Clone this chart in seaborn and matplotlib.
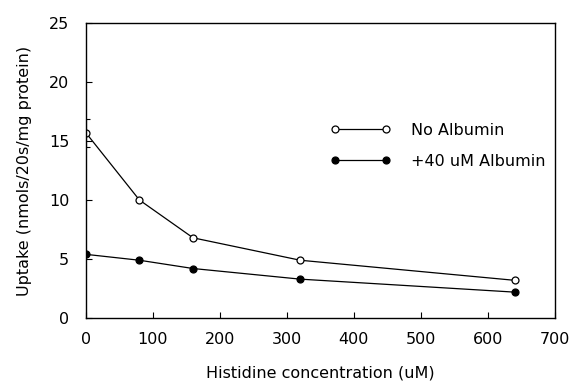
import matplotlib
matplotlib.use("Agg")
import matplotlib.pyplot as plt
import seaborn as sns
import pandas as pd

# data
conc = [0, 80, 160, 320, 640]
no_albumin = [15.7, 10.0, 6.8, 4.9, 3.2]
with_albumin = [5.4, 4.9, 4.2, 3.3, 2.2]
err_x = [0]
err_y = [15.7]
err_size = [1.2]

df = pd.DataFrame({
    "conc": conc * 2,
    "uptake": no_albumin + with_albumin,
    "group": ["No Albumin"] * len(conc) + ["+40 uM Albumin"] * len(conc),
})

sns.set_theme(style="ticks")
plt.rcParams["font.family"] = ["DejaVu Sans"]
plt.rcParams["text.color"] = "black"
plt.rcParams["axes.labelcolor"] = "black"

fig = plt.figure(figsize=(5.72, 3.87), dpi=100)
ax = fig.add_axes([0.150, 0.178, 0.820, 0.763])

for grp, face in [("No Albumin", "white"), ("+40 uM Albumin", "black")]:
    sub = df[df["group"] == grp]
    sns.lineplot(data=sub, x="conc", y="uptake", ax=ax, color="black", lw=0.9,
                 marker="o", markersize=5, markerfacecolor=face,
                 markeredgecolor="black", markeredgewidth=0.9, label=grp,
                 legend=False)

ax.errorbar(err_x, err_y, yerr=err_size, fmt="none", ecolor="black",
            elinewidth=0.8, capsize=3, capthick=0.8)

ax.set_xlim(0, 700)
ax.set_ylim(0, 25)
ax.set_xticks([0, 100, 200, 300, 400, 500, 600, 700])
ax.set_yticks([0, 5, 10, 15, 20, 25])
ax.tick_params(direction="in", length=4, width=0.8, labelsize=11.5, colors="black")
ax.tick_params(axis="x", pad=10)
ax.tick_params(axis="y", pad=12)
for s in ax.spines.values():
    s.set_linewidth(1.0)
    s.set_color("black")

ax.set_xlabel("Histidine concentration (uM)", fontsize=11.5, labelpad=13)
ax.set_ylabel("Uptake (nmols/20s/mg protein)", fontsize=11.5, labelpad=12)

leg = ax.legend(loc="upper left", bbox_to_anchor=(0.49, 0.71), frameon=False,
                numpoints=2, handlelength=3.8, fontsize=11.5, labelspacing=1.0,
                handletextpad=1.3)

fig.savefig("out.png", dpi=100)
